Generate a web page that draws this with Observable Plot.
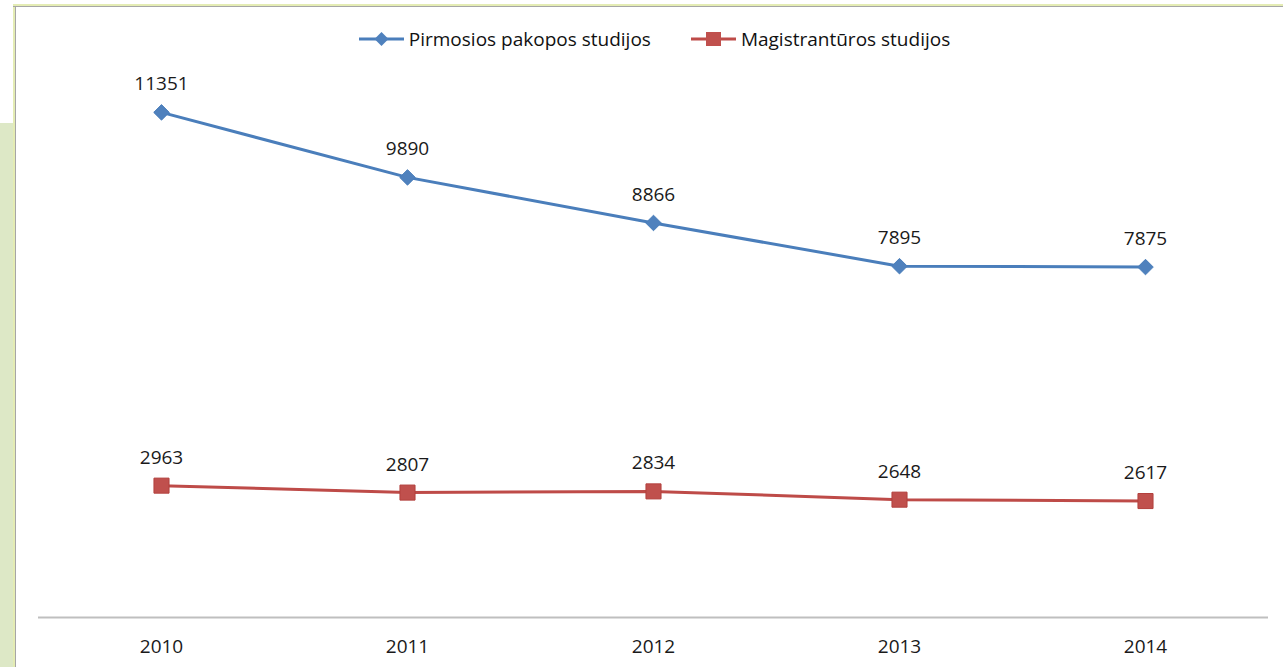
<!DOCTYPE html>
<html>
<head>
<meta charset="utf-8">
<script src="https://cdn.jsdelivr.net/npm/d3@7"></script>
<script src="https://cdn.jsdelivr.net/npm/@observablehq/plot@0.6"></script>
<style>
  html, body { margin: 0; padding: 0; background: #ffffff; }
  #wrap { position: relative; width: 1283px; height: 667px; overflow: hidden; background: #ffffff; font-family: "Open Sans", sans-serif; }
  #greenPanel { position: absolute; left: 0; top: 123px; width: 13px; height: 544px; background: #dde8c6; }
  #borderLeft { position: absolute; left: 13px; top: 4px; width: 2px; height: 663px; background: #e4ecb4; border-right: 1px solid #a6a6a6; }
  #borderTop { position: absolute; left: 13px; top: 4px; width: 1270px; height: 2px; background: #e4ecb4; border-bottom: 1px solid #a6a6a6; }
  #chart { position: absolute; left: 0; top: 0; }
  #legend { position: absolute; top: 26px; left: 13px; width: 1283px; display: flex; justify-content: center; gap: 0; font-size: 19px; color: #111; }
  .item { display: flex; align-items: center; margin: 0 20px; }
  .item svg { margin-right: 5px; }
</style>
</head>
<body>
<div id="wrap">
  <div id="greenPanel"></div>
  <div id="chart"></div>
  <div id="borderLeft"></div>
  <div id="borderTop"></div>
  <div id="legend"></div>
</div>
<script>
const years = ["2010", "2011", "2012", "2013", "2014"];
const seriesNames = ["Pirmosios pakopos studijos", "Magistrantūros studijos"];
const pirmosios = [11351, 9890, 8866, 7895, 7875];
const magistrantura = [2963, 2807, 2834, 2648, 2617];
const colors = ["#4a7ebb", "#be4b48"];
const markerFill = ["#4f81bd", "#c0504d"];

const rows = [];
years.forEach((y, i) => {
  rows.push({year: y, value: pirmosios[i], series: seriesNames[0]});
  rows.push({year: y, value: magistrantura[i], series: seriesNames[1]});
});
const blue = rows.filter(d => d.series === seriesNames[0]);
const red = rows.filter(d => d.series === seriesNames[1]);

const chart = Plot.plot({
  width: 1283,
  height: 667,
  marginLeft: 38,
  marginRight: 15,
  marginTop: 83,
  marginBottom: 50,
  style: {fontFamily: "Open Sans, sans-serif", background: "transparent"},
  x: {type: "point", domain: years, padding: 0.5, axis: null},
  y: {domain: [0, 12000], axis: null},
  marks: [
    Plot.ruleY([0], {stroke: "#bfbfbf", strokeWidth: 2}),
    Plot.axisX({tickSize: 0, tickPadding: 22, fontSize: 19, fill: "#1a1a1a", anchor: "bottom", label: null}),
    Plot.line(blue, {x: "year", y: "value", stroke: colors[0], strokeWidth: 3}),
    Plot.line(red, {x: "year", y: "value", stroke: colors[1], strokeWidth: 3}),
    Plot.dot(blue, {x: "year", y: "value", symbol: "diamond2", r: 7, fill: markerFill[0], stroke: colors[0], strokeWidth: 1}),
    Plot.dot(red, {x: "year", y: "value", symbol: "square", r: 8.5, fill: markerFill[1], stroke: "#b3403d", strokeWidth: 1}),
    Plot.text(rows, {x: "year", y: "value", text: d => String(d.value), dy: -28, fontSize: 19, fill: "#1a1a1a"})
  ]
});
document.getElementById("chart").appendChild(chart);

const legend = document.getElementById("legend");
seriesNames.forEach((name, i) => {
  const item = document.createElement("div");
  item.className = "item";
  const sym = i === 0
    ? `<polygon points="22.5,2 29.5,9 22.5,16 15.5,9" fill="${markerFill[0]}"/>`
    : `<rect x="15" y="2" width="15" height="14" fill="${markerFill[1]}"/>`;
  item.innerHTML = `<svg width="45" height="18"><line x1="0" y1="9" x2="45" y2="9" stroke="${colors[i]}" stroke-width="3"/>${sym}</svg><span>${name}</span>`;
  legend.appendChild(item);
});
</script>
</body>
</html>
